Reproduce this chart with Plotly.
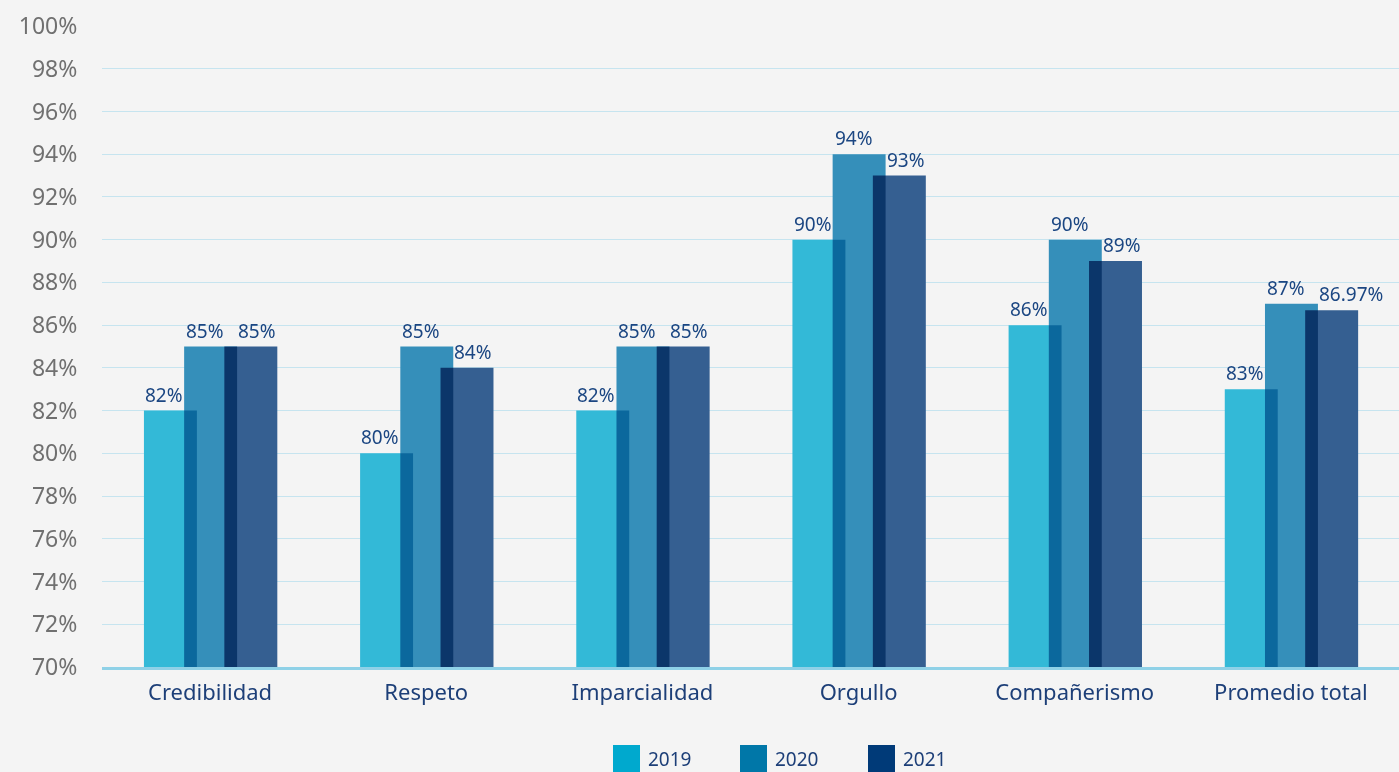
import plotly.graph_objects as go

categories = ["Credibilidad", "Respeto", "Imparcialidad", "Orgullo", "Compañerismo", "Promedio total"]
years = ["2019", "2020", "2021"]
v2019 = [82, 80, 82, 90, 86, 83]
v2020 = [85, 85, 85, 94, 90, 87]
v2021 = [85, 84, 85, 93, 89, 86.7]
labels2019 = ["82%", "80%", "82%", "90%", "86%", "83%"]
labels2020 = ["85%", "85%", "85%", "94%", "90%", "87%"]
labels2021 = ["85%", "84%", "85%", "93%", "89%", "86.97%"]
bar_colors = ["#33b9d7", "#358fba", "#355f91"]
legend_colors = ["#00a9ce", "#0077a8", "#003a78"]
offsets = [-0.306, -0.12, 0.066]
label_shift = [-67, -26, 26]   # px from category centre to label left edge
width = 0.245

FONT = "Noto Sans"
W, H = 1399, 772
ML, MR, MT, MB = 102, 0, 26, 105
PW, PH = W - ML - MR, H - MT - MB

def px_x(p):
    return (p - ML) / PW

def px_y(p):
    return (H - MB - p) / PH

fig = go.Figure()
series = [v2019, v2020, v2021]
lbls = [labels2019, labels2020, labels2021]
for i in range(3):
    fig.add_trace(go.Bar(
        x=categories, y=series[i], name=years[i],
        marker=dict(color=bar_colors[i], line=dict(width=0)),
        offset=offsets[i], width=width,
        showlegend=False, hoverinfo="x+y+name",
    ))
    for c, v, t in zip(categories, series[i], lbls[i]):
        fig.add_annotation(x=c, y=v, text=t, showarrow=False, xref="x", yref="y",
                           xanchor="left", yanchor="bottom", xshift=label_shift[i], yshift=1,
                           font=dict(family=FONT, size=19, color="#1b4682"))

# manual legend (large square swatches)
legend_x = [613, 740, 868]
for i in range(3):
    fig.add_shape(type="rect", xref="paper", yref="paper",
                  x0=px_x(legend_x[i]), x1=px_x(legend_x[i] + 27),
                  y0=px_y(773), y1=px_y(745),
                  fillcolor=legend_colors[i], line=dict(width=0), layer="above")
    fig.add_annotation(x=px_x(legend_x[i] + 33), y=px_y(759), xref="paper", yref="paper",
                       text=years[i], showarrow=False, xanchor="left", yanchor="middle",
                       font=dict(family=FONT, size=19, color="#1d3f78"))

fig.update_layout(
    barmode="overlay",
    width=W, height=H,
    paper_bgcolor="#f4f4f4", plot_bgcolor="#f4f4f4",
    margin=dict(l=ML, r=MR, t=MT, b=MB),
    font=dict(family=FONT),
    showlegend=False,
)
fig.update_yaxes(range=[70, 100], dtick=2, ticksuffix="%", gridcolor="#c6e4ef", gridwidth=1,
                 zeroline=False, showline=False,
                 tickfont=dict(family=FONT, size=23, color="#707070"),
                 ticks="outside", ticklen=19, tickcolor="rgba(0,0,0,0)")
fig.update_xaxes(showgrid=False, showline=True, linecolor="#8fd1e7", linewidth=3, layer="below traces",
                 tickfont=dict(family=FONT, size=22, color="#1d3f78"),
                 ticks="outside", ticklen=4, tickcolor="rgba(0,0,0,0)")

post = (
    "document.body.style.margin='0';document.body.style.overflow='hidden';"
    "var s=document.createElement('style');"
    "s.textContent='.barlayer{isolation:isolate}.barlayer .trace{mix-blend-mode:multiply}';"
    "document.head.appendChild(s);"
)
fig.write_html("out.html", post_script=post, config={"displayModeBar": False})
